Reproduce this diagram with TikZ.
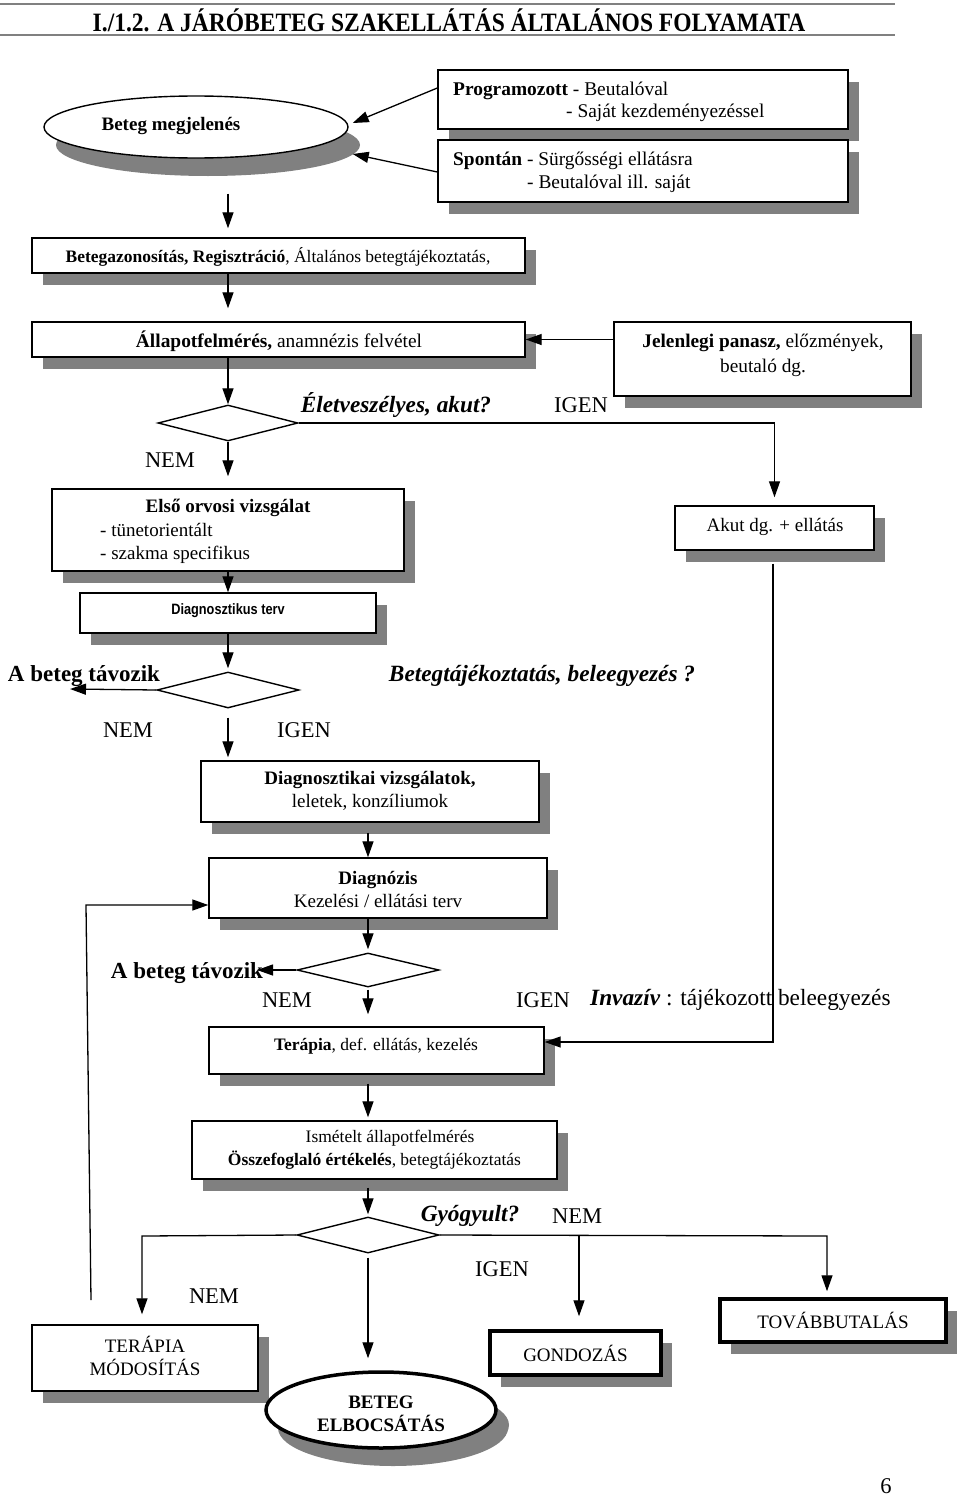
\documentclass[tikz,border=0pt]{standalone}
\usepackage{fontspec}
\setmainfont{Liberation Serif}
\setsansfont{Liberation Sans}
\usetikzlibrary{shapes.geometric,shadows,arrows.meta,calc}
\definecolor{shgray}{HTML}{808080}
\newcommand{\fsz}[2]{\fontsize{#1}{#2}\selectfont}
\begin{document}
\begin{tikzpicture}[x=1pt,y=-1pt,
  box/.style={draw,line width=1.4pt,fill=white,rectangle,inner sep=0pt,
     drop shadow={shadow xshift=11pt,shadow yshift=-12pt,fill=shgray,opacity=1}},
  thickbox/.style={box,line width=3.5pt},
  oval/.style={draw,ellipse,line width=1.4pt,fill=white,inner sep=0pt,
     drop shadow={shadow xshift=12pt,shadow yshift=-18pt,fill=shgray,opacity=1}},
  dia/.style={draw,diamond,line width=1.4pt,fill=white,inner sep=0pt,aspect=1},
  arr/.style={line width=1.3pt,-{Triangle[length=16pt,width=11pt]}},
  txt/.style={inner sep=0pt,font=\fsz{17.5}{21}},
  btxt/.style={inner sep=0pt,font=\fsz{19.4}{23}},
  mid/.style={inner sep=0pt,font=\fsz{19}{23},align=center},
  lbl/.style={inner sep=0pt,font=\fsz{22.5}{26}},
  blbl/.style={inner sep=0pt,font=\bfseries\fsz{23}{26}},
  bilbl/.style={inner sep=0pt,font=\bfseries\itshape\fsz{23.3}{26}}
]
\useasboundingbox (0,0) rectangle (960,1496);

% title
\draw[line width=1.6pt, shgray] (0,4) -- (895,4);
\draw[line width=1.6pt, shgray] (0,35) -- (895,35);
\node[inner sep=0pt,font=\bfseries\fsz{26.5}{30}] (title) at (449,20) {\scalebox{0.887}[1]{I./1.2. A JÁRÓBETEG SZAKELLÁTÁS ÁLTALÁNOS FOLYAMATA}};

% top
\node[oval,minimum width=304pt,minimum height=62pt] (ell1) at (196,127) {};
\node[inner sep=0pt,font=\bfseries\fsz{19}{23}] (t-ell1) at (171,126) {Beteg megjelenés};

\node[box,minimum width=410pt,minimum height=59pt] (prog) at (643,99.5) {};
\node[btxt,anchor=base west] (t-prog1) at (453,95.5) {\textbf{Programozott} - Beutalóval};
\node[btxt,anchor=base west] (t-prog2) at (566,117.5) {- Saját kezdeményezéssel};
\node[box,minimum width=410pt,minimum height=62pt] (spont) at (643,171) {};
\node[btxt,anchor=base west] (t-sp1) at (453,165.5) {\textbf{Spontán} - Sürgősségi ellátásra};
\node[btxt,anchor=base west] (t-sp2) at (527,188.5) {- Beutalóval ill. saját};

\draw[arr] ($(prog.west)+(0,-11.5)$) -- ($(ell1.east)+(4,-4)$);
\draw[arr] ($(spont.west)+(0,1)$) -- ($(ell1.east)+(4,27)$);

\coordinate (sp) at (228,0);
\coordinate (col) at (368,0);

\node[box,minimum width=493pt,minimum height=35pt] (reg) at (278.5,255.5) {};
\node[txt] (t-reg) at (278,257) {\textbf{Betegazonosítás, Regisztráció}, Általános betegtájékoztatás,};
\draw[arr,shorten >=9pt] ($(ell1.south -| sp)+(0,35)$) -- (reg.north -| sp);

\node[box,minimum width=493pt,minimum height=35pt] (allap) at (278.5,339.5) {};
\node[btxt] (t-allap) at (279,341) {\textbf{Állapotfelmérés,} anamnézis felvétel};
\draw[arr,shorten >=13pt] (reg.south -| sp) -- (allap.north -| sp);

\node[box,minimum width=297pt,minimum height=74pt] (jel) at (762.5,359) {};
\node[mid,font=\fsz{19.3}{25}] (t-jel) at (763,355) {\textbf{Jelenlegi panasz,} előzmények,\\beutaló dg.};
\draw[arr] (allap.east -| jel.west) -- (allap.east);

\node[dia,minimum width=140pt,minimum height=36pt] (d1) at (228,423) {};
\draw[arr] (allap.south -| sp) -- (d1.north);
\node[bilbl] (q1) at (396,405) {Életveszélyes, akut?};
\node[lbl] (igen1) at (581,405) {IGEN};
\node[lbl] (nem1) at (170,460) {NEM};

\node[box,minimum width=199pt,minimum height=44pt] (akut) at (774.5,528) {};
\node[mid] (t-akut) at (775,527) {Akut dg. + ellátás};
\draw[arr,shorten >=8pt] (d1.east) -- (d1.east -| akut.north) -- (akut.north);

\node[box,minimum width=352pt,minimum height=82pt] (elso) at (228,530) {};
\node[mid,font=\bfseries\fsz{19}{23}] (t-elso1) at (228,508) {Első orvosi vizsgálat};
\node[mid,anchor=base west] (t-elso2) at (100,536) {- tünetorientált};
\node[mid,anchor=base west] (t-elso3) at (100,559) {- szakma specifikus};
\draw[arr,shorten >=12pt] (d1.south) -- (elso.north);

\node[box,minimum width=296pt,minimum height=40pt] (diag) at (228,613) {};
\node[inner sep=0pt,font=\sffamily\bfseries\fsz{15}{18}] (t-diag) at (228,611) {\scalebox{0.85}[1]{Diagnosztikus terv}};
\draw[arr] (elso.south) -- (diag.north);

\node[dia,minimum width=142pt,minimum height=36pt] (d2) at (228,690) {};
\draw[arr,shorten >=3pt] (diag.south) -- (d2.north);
\node[blbl] (leave1) at (84,676) {A beteg távozik};
\coordinate (lv1) at (70,689);
\draw[arr] (d2.west) -- (lv1);
\node[bilbl] (q2) at (542,676) {Betegtájékoztatás, beleegyezés ?};
\node[lbl] (nem2) at (128,730) {NEM};
\node[lbl] (igen2) at (304,730) {IGEN};

\node[box,minimum width=338pt,minimum height=61pt] (diagv) at (370,791.5) {};
\node[mid] (t-diagv) at (370,791) {\textbf{Diagnosztikai vizsgálatok,}\\leletek, konzíliumok};
\draw[arr,shorten >=3pt] ($(d2.south)+(0,9)$) -- (d2.south |- diagv.north);

\node[box,minimum width=338pt,minimum height=60pt] (diagz) at (378,888) {};
\node[mid] (t-diagz) at (378,889) {\textbf{Diagnózis}\\Kezelési / ellátási terv};
\draw[arr] ($(diagv.south -| col)+(0,10)$) -- (diagz.north -| col);

\coordinate (fbA) at (91,1300);
\coordinate (fbB) at (86,905);
\draw[arr] (fbA) -- (fbB) -- (fbB -| diagz.west);

\node[dia,minimum width=142pt,minimum height=34pt] (d3) at (368,970) {};
\draw[arr,shorten >=3pt] (diagz.south -| col) -- (d3.north);
\node[blbl] (leave2) at (187,973) {A beteg távozik};
\coordinate (lv2) at (257,970);
\draw[arr] (d3.west) -- (lv2);
\node[lbl] (nem3) at (287,1000) {NEM};
\node[lbl] (igen3) at (543,1000) {IGEN};
\node[lbl,font=\fsz{23.3}{26},anchor=west] (inv) at (590,1000) {\textbf{\textit{Invazív}} : tájékozott beleegyezés};

\node[box,minimum width=335pt,minimum height=47pt] (terap) at (376.5,1050.5) {};
\node[txt] (t-terap) at (376,1046) {\textbf{Terápia}, def. ellátás, kezelés};
\draw[arr,shorten >=12pt] ($(d3.south)+(0,2)$) -- (terap.north -| col);

\coordinate (akc) at (773,1042);
\draw[arr] ($(akut.south)+(-1.5,13)$) -- (akc) -- (akc -| terap.east);

\node[box,minimum width=365pt,minimum height=58pt] (ism) at (374.5,1150) {};
\node[txt] (t-ism1) at (390,1138) {Ismételt állapotfelmérés};
\node[txt] (t-ism2) at (374.5,1160) {\textbf{Összefoglaló értékelés}, betegtájékoztatás};
\draw[arr,shorten >=3pt] ($(terap.south -| col)+(0,9)$) -- (ism.north -| col);

\node[dia,minimum width=142pt,minimum height=36pt] (d4) at (368,1235) {};
\draw[arr,shorten >=2pt] ($(ism.south -| col)+(0,8)$) -- (d4.north);
\node[bilbl] (q4) at (470,1216) {Gyógyult?};
\node[lbl] (nem4) at (577,1216) {NEM};
\node[lbl] (igen4) at (502,1269) {IGEN};
\node[lbl] (nem5) at (214,1296) {NEM};

\node[box,minimum width=226pt,minimum height=66pt] (tmod) at (145,1358) {};
\node[mid] (t-tmod) at (145,1355.5) {TERÁPIA\\MÓDOSÍTÁS};

\node[oval,line width=3.5pt,minimum width=230pt,minimum height=76pt,
  drop shadow={shadow xshift=13pt,shadow yshift=-15pt,fill=shgray,opacity=1}] (elb) at (381,1410) {};
\node[mid,font=\bfseries\fsz{19}{23}] (t-elb) at (381,1413.5) {BETEG\\ELBOCSÁTÁS};

\node[thickbox,minimum width=171pt,minimum height=44pt] (gond) at (575.5,1353) {};
\node[mid] (t-gond) at (575.5,1353) {GONDOZÁS};

\node[thickbox,minimum width=226pt,minimum height=43pt] (tov) at (833,1320.5) {};
\node[mid] (t-tov) at (833,1320.5) {TOVÁBBUTALÁS};

\coordinate (lft) at (142,1236);
\coordinate (rgt) at (827,1236);
\coordinate (mdl) at (579,1236);
\draw[arr,shorten >=10pt] (d4.west) -- (lft) -- (lft |- tmod.north);
\draw[arr,shorten >=6pt] (d4.east) -- (rgt) -- (rgt |- tov.north);
\draw[arr,shorten >=13pt] (mdl) -- (mdl |- gond.north);
\draw[arr] ($(d4.south)+(0,4)$) -- ($(elb.north -| col)+(0,-12)$);

\node[lbl] (page) at (886,1486) {6};
\end{tikzpicture}
\end{document}
